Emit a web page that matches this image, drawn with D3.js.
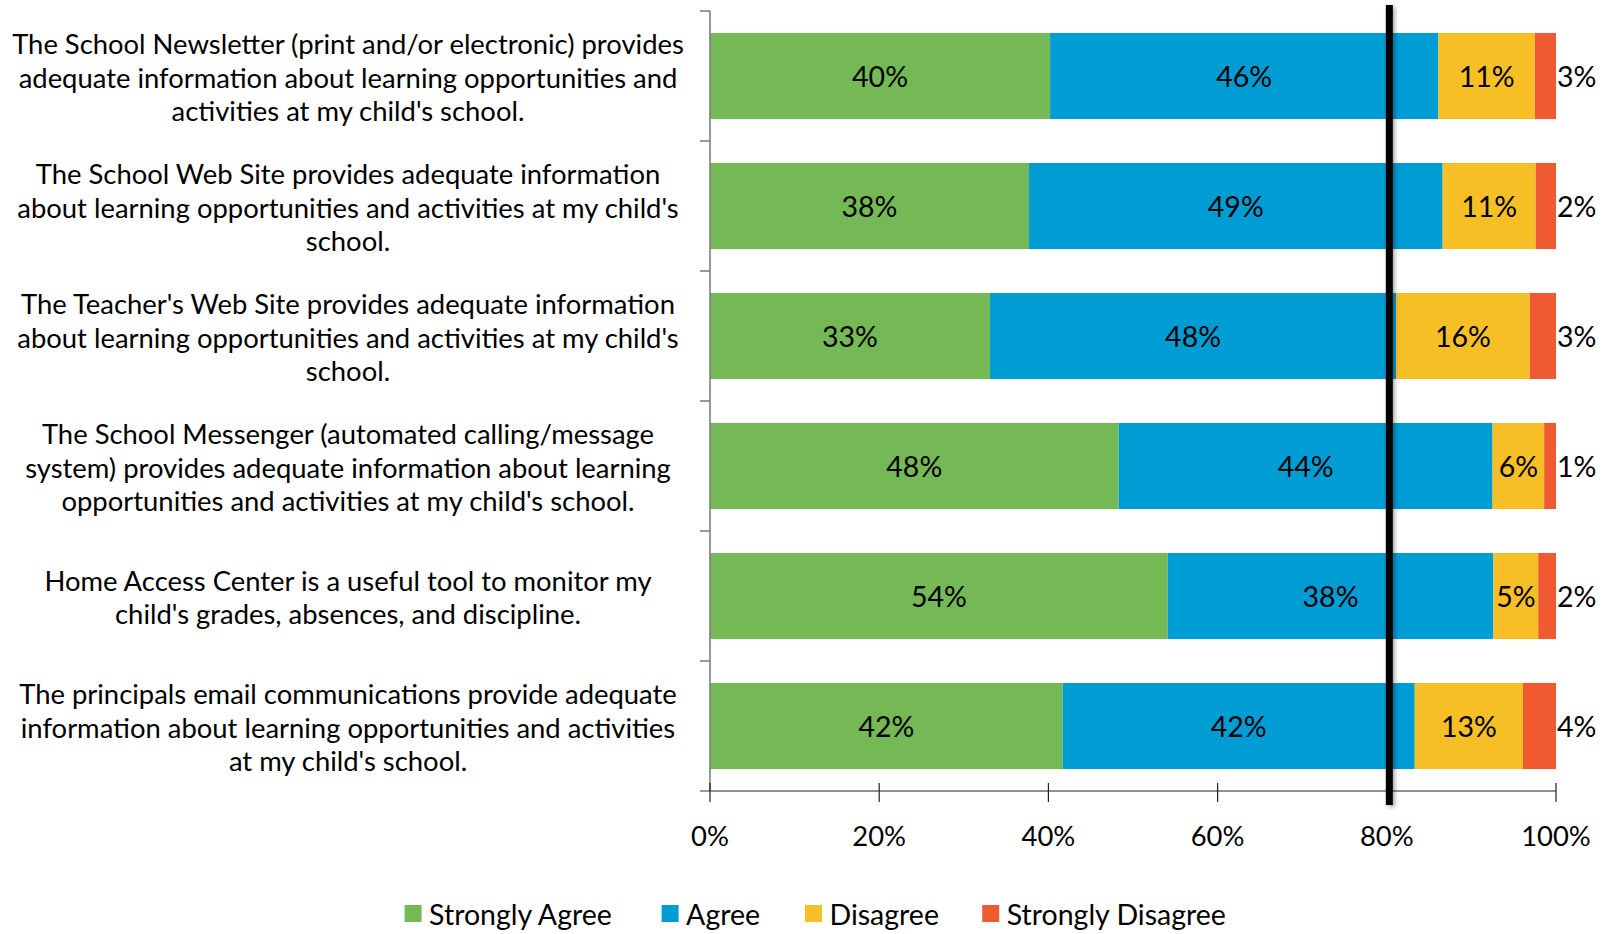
<!DOCTYPE html>
<html><head><meta charset="utf-8">
<script src="https://cdn.jsdelivr.net/npm/d3@7"></script>
<style>body{margin:0;background:#fff}svg{display:block}text{font-family:Lato, "Open Sans", sans-serif;fill:#000}</style>
</head><body>
<svg id="chart" width="1606" height="934"></svg>
<script>
const categories = [
  "The School Newsletter (print and/or electronic) provides\nadequate information about learning opportunities and\nactivities at my child's school.",
  "The School Web Site provides adequate information\nabout learning opportunities and activities at my child's\nschool.",
  "The Teacher's Web Site provides adequate information\nabout learning opportunities and activities at my child's\nschool.",
  "The School Messenger (automated calling/message\nsystem) provides adequate information about learning\nopportunities and activities at my child's school.",
  "Home Access Center is a useful tool to monitor my\nchild's grades, absences, and discipline.",
  "The principals email communications provide adequate\ninformation about learning opportunities and activities\nat my child's school."
];
const seriesNames = ["Strongly Agree", "Agree", "Disagree", "Strongly Disagree"];
const stronglyAgree = [40.2, 37.7, 33.1, 48.3, 54.1, 41.7];
const agree = [45.9, 48.9, 48.0, 44.2, 38.5, 41.6];
const disagree = [11.4, 11.0, 15.8, 6.1, 5.3, 12.8];
const stronglyDisagree = [2.5, 2.4, 3.1, 1.4, 2.1, 3.9];
const labelsSA = ["40%", "38%", "33%", "48%", "54%", "42%"];
const labelsA = ["46%", "49%", "48%", "44%", "38%", "42%"];
const labelsD = ["11%", "11%", "16%", "6%", "5%", "13%"];
const labelsSD = ["3%", "2%", "3%", "1%", "2%", "4%"];
const xTicks = [0, 20, 40, 60, 80, 100];
const targetLine = 80.3;
const colors = ["#75B856", "#009CD4", "#F7BF26", "#F05A32"];

const svg = d3.select("#chart");
const x = d3.scaleLinear().domain([0, 100]).range([710, 1556]);
const y = d3.scaleBand().domain(d3.range(categories.length)).range([11, 791]).paddingInner(0.338).paddingOuter(0.169);

const values = [stronglyAgree, agree, disagree, stronglyDisagree];
const labels = [labelsSA, labelsA, labelsD, labelsSD];
const rows = categories.map((c, i) => {
  const r = {i};
  seriesNames.forEach((s, k) => r[s] = values[k][i]);
  return r;
});
const stack = d3.stack().keys(seriesNames)(rows);

// font fit
const FS = 28;
const probe = svg.append("text").style("font-size", FS + "px").text(categories[0].split("\n")[0]);
const w = probe.node().getComputedTextLength();
probe.remove();
const fs = FS * 672 / w;
const fs2 = fs * 1.04;

// bars
stack.forEach((layer, k) => {
  svg.append("g").selectAll("rect").data(layer).join("rect")
    .attr("x", d => x(d[0])).attr("width", d => x(d[1]) - x(d[0]))
    .attr("y", (d, i) => y(i)).attr("height", y.bandwidth())
    .attr("fill", colors[k]);
});

// labels
stack.forEach((layer, k) => {
  svg.append("g").selectAll("text").data(layer).join("text")
    .attr("x", d => k < 3 ? (x(d[0]) + x(d[1])) / 2 : x(d[1]) + 1)
    .attr("y", (d, i) => y(i) + y.bandwidth() / 2)
    .attr("text-anchor", k < 3 ? "middle" : "start")
    .attr("dominant-baseline", "central")
    .style("font-size", fs2 + "px")
    .text((d, i) => labels[k][i]);
});

// y axis
const yAxis = svg.append("g").attr("transform", "translate(710,0)");
yAxis.append("line").attr("y1", 11).attr("y2", 791).attr("stroke", "#777").attr("stroke-width", 1.5);
const yTickPos = d3.range(categories.length + 1).map(i => i === categories.length ? y.range()[1] : y(i) - y.step() * y.paddingOuter());
yAxis.selectAll(".yt").data(yTickPos).join("line").attr("class", "yt")
  .attr("x1", -10).attr("x2", 0).attr("y1", d => d).attr("y2", d => d)
  .attr("stroke", "#777").attr("stroke-width", 1.5);

// category labels
const catG = svg.append("g");
categories.forEach((c, i) => {
  const lines = c.split("\n");
  const lh = fs * 1.23;
  const cy = y(i) + y.bandwidth() / 2 + 1;
  const t = catG.append("text").attr("text-anchor", "middle").style("font-size", fs + "px");
  lines.forEach((ln, j) => {
    t.append("tspan").attr("x", 348).attr("y", cy + (j - (lines.length - 1) / 2) * lh)
      .attr("dominant-baseline", "central").text(ln);
  });
});

// x axis
const xAxis = svg.append("g").attr("transform", "translate(0,791)");
xAxis.append("line").attr("x1", x(0)).attr("x2", x(100)).attr("stroke", "#222").attr("stroke-width", 1.2);
xAxis.selectAll(".xt").data(xTicks).join("line").attr("class", "xt")
  .attr("x1", d => x(d)).attr("x2", d => x(d)).attr("y1", -8).attr("y2", 11)
  .attr("stroke", "#222").attr("stroke-width", 1.2);
xAxis.selectAll(".xl").data(xTicks).join("text").attr("class", "xl")
  .attr("x", d => x(d)).attr("y", 44).attr("text-anchor", "middle").attr("dominant-baseline", "central")
  .style("font-size", fs + "px").text(d => d + "%");

// target line with shadow
const defs = svg.append("defs");
const f = defs.append("filter").attr("id", "sh").attr("filterUnits", "userSpaceOnUse")
  .attr("x", 1300).attr("y", 0).attr("width", 200).attr("height", 934);
f.append("feDropShadow").attr("dx", 2).attr("dy", 2).attr("stdDeviation", 2).attr("flood-color", "#000").attr("flood-opacity", 0.35);
svg.append("rect").attr("x", x(targetLine) - 3.5).attr("width", 7).attr("y", 5).attr("height", 800)
  .attr("fill", "#000").attr("filter", "url(#sh)");

// legend
const legendX = [404.6, 661.6, 805, 982.2];
const lg = svg.append("g");
seriesNames.forEach((s, k) => {
  lg.append("rect").attr("x", legendX[k]).attr("y", 905).attr("width", 17).attr("height", 17).attr("fill", colors[k]);
  lg.append("text").attr("x", legendX[k] + 24.5).attr("y", 913.5).attr("dominant-baseline", "central")
    .style("font-size", fs2 + "px").text(s);
});
</script>
</body></html>
